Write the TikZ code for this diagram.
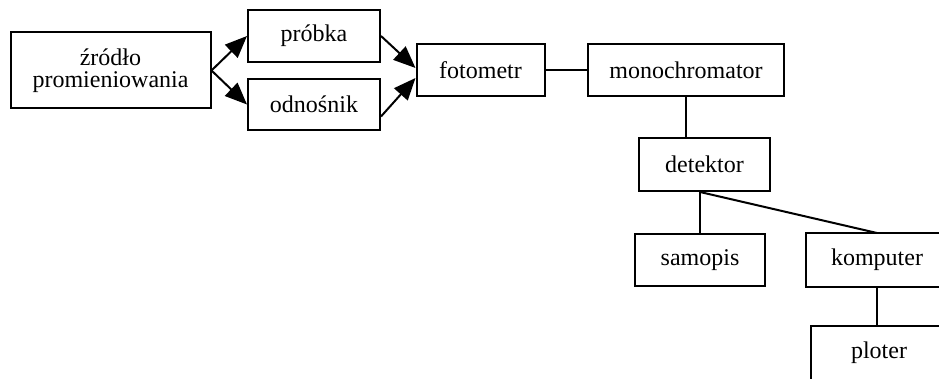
\documentclass[tikz,border=0pt]{standalone}
\usepackage{fontspec}
\setmainfont{Liberation Serif}
\usetikzlibrary{arrows.meta}

\begin{document}
\begin{tikzpicture}[x=0.5pt,y=-0.5pt,
  box/.style={draw,line width=1pt,inner sep=1pt,font=\fontsize{12pt}{11pt}\selectfont,align=center},
  open/.style={box,draw=none},
  arr/.style={line width=1pt,-{Triangle[length=11pt,width=9pt]}},
  con/.style={line width=1pt}]
\useasboundingbox (0,0) rectangle (939,379);
\clip (0,0) rectangle (939,379);
\node[box,minimum width=100pt,minimum height=38pt] (zrodlo) at (110.5,70.5) {źródło\\promieniowania};
\node[box,minimum width=66pt,minimum height=26pt] (probka) at (314,36) {próbka};
\node[box,minimum width=66pt,minimum height=25.5pt] (odnosnik) at (314,104.5) {odnośnik};
\node[box,minimum width=64pt,minimum height=26pt] (fotometr) at (480.5,70) {fotometr};
\node[box,minimum width=98pt,minimum height=26pt] (mono) at (686,70) {monochromator};
\node[box,minimum width=65.5pt,minimum height=26.5pt] (detektor) at (704.5,164.5) {detektor};
\node[box,minimum width=65pt,minimum height=26pt] (samopis) at (700,260) {samopis};
\node[open,minimum width=70pt,minimum height=26pt] (komputer) at (877,260) {komputer};
\node[open,minimum width=67pt,minimum height=26pt] (ploter) at (879,353) {ploter};
\draw[con] ([xshift=40pt]komputer.north east) -- (komputer.north west) -- (komputer.south west) -- ([xshift=40pt]komputer.south east);
\draw[con] ([xshift=40pt]ploter.north east) -- (ploter.north west) -- (ploter.south west) -- ([xshift=40pt]ploter.south east);
\draw[arr] (zrodlo.east) -- (probka.west);
\draw[arr] (zrodlo.east) -- (odnosnik.west);
\draw[arr] (probka.east) -- ([yshift=1pt]fotometr.west);
\draw[arr] ([yshift=-6pt]odnosnik.east) -- ([yshift=-4pt]fotometr.west);
\draw[con] (fotometr) -- (mono);
\draw[con] (mono.south) -- (mono.south |- detektor.north);
\draw[con] (samopis.north |- detektor.south) -- (samopis.north);
\draw[con] (samopis.north |- detektor.south) -- (komputer.north);
\draw[con] (komputer.south) -- (komputer.south |- ploter.north);
\end{tikzpicture}
\end{document}
